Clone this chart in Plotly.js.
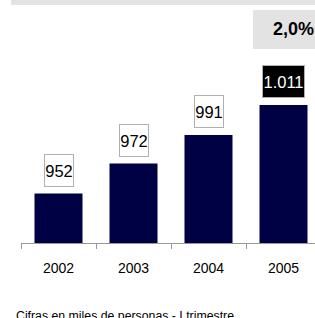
<!DOCTYPE html>
<html><head><meta charset="utf-8">
<script src="https://cdn.plot.ly/plotly-3.0.1.min.js"></script>
<style>html,body{margin:0;padding:0;background:#fff;}#chart{width:315px;height:318px;}</style>
</head><body><div id="chart"></div>
<script>
const years = ['2002', '2003', '2004', '2005'];
const values = [952, 972, 991, 1011];
const valueLabels = ['952', '972', '991', '1.011'];
const growthLabel = '2,0%';
const footnote = 'Cifras en miles de personas - I trimestre';

const annotations = years.map((y, i) => {
  const last = i === years.length - 1;
  return {
    x: i, y: values[i], xref: 'x', yref: 'y',
    text: valueLabels[i], showarrow: false,
    yanchor: 'bottom', yshift: 7,
    width: last ? 41 : 28, height: 31,
    font: {family: 'Liberation Sans, Arial, sans-serif', size: 16.5, color: last ? '#ffffff' : '#000000'},
    bgcolor: last ? '#000000' : '#ffffff',
    bordercolor: '#b0b0b0', borderwidth: 1, borderpad: 0
  };
});
annotations.push({
  xref: 'paper', yref: 'paper', x: 1, y: 1, xanchor: 'right', yanchor: 'middle',
  xshift: 1, yshift: 31, text: '<b>' + growthLabel + '</b>', showarrow: false,
  font: {family: 'Liberation Sans, Arial, sans-serif', size: 18, color: '#000'}
});
annotations.push({
  xref: 'paper', yref: 'paper', x: 0, y: 0, xanchor: 'left', yanchor: 'top',
  xshift: -7, yshift: -64, text: footnote, showarrow: false,
  font: {family: 'Liberation Sans, Arial, sans-serif', size: 12.3, color: '#000'}
});

const layout = {
  width: 315, height: 318,
  margin: {l: 21, r: 0, t: 60, b: 75},
  paper_bgcolor: '#ffffff', plot_bgcolor: '#ffffff',
  showlegend: false,
  bargap: 0.36,
  xaxis: {
    type: 'category', range: [-0.5, 3.42],
    showline: true, linecolor: '#999999', linewidth: 1,
    ticks: 'outside', tickson: 'boundaries', ticklen: 5, tickcolor: '#999999',
    showgrid: false, zeroline: false, ticklabelstandoff: 12,
    tickfont: {family: 'Liberation Sans, Arial, sans-serif', size: 14, color: '#000'}
  },
  yaxis: {
    range: [919, 1041], visible: false, showgrid: false, zeroline: false
  },
  shapes: [
    {type: 'rect', xref: 'paper', yref: 'paper', x0: -10/294, x1: 1, y0: 1 + 55/183, y1: 1 + 61/183,
     fillcolor: '#e3e3e3', line: {width: 0}, layer: 'below'},
    {type: 'rect', xref: 'paper', yref: 'paper', x0: 232/294, x1: 1, y0: 1 + 11/183, y1: 1 + 50/183,
     fillcolor: '#e3e3e3', line: {width: 0}, layer: 'below'}
  ],
  annotations: annotations
};

Plotly.newPlot('chart', [{
  type: 'bar', x: years, y: values,
  marker: {color: '#000044'}, hoverinfo: 'none'
}], layout, {staticPlot: true, displayModeBar: false});
</script></body></html>
